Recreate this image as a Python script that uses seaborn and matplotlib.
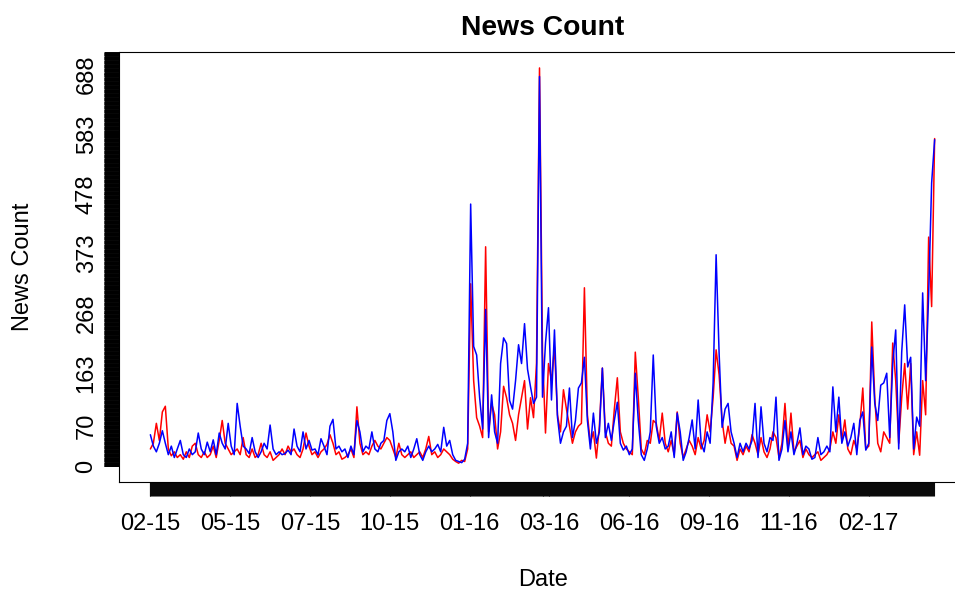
import numpy as np
import pandas as pd
import matplotlib
matplotlib.use('Agg')
import matplotlib.pyplot as plt
import seaborn as sns

# daily news counts, read every 3rd day starting 2015-02-20
step = 3
n_days = 786
red_counts = [
    30, 40, 75, 45, 95, 105, 30, 18, 25, 15,
    20, 12, 25, 15, 35, 40, 20, 15, 25, 15,
    20, 35, 15, 45, 80, 40, 30, 20, 25, 30,
    20, 50, 20, 15, 30, 15, 20, 40, 20, 15,
    25, 10, 15, 20, 30,
    20, 35, 25, 30, 20, 15, 30, 58, 35, 20,
    25, 15, 25, 30, 38, 55, 40, 20, 25, 12,
    15, 20, 30, 15, 104, 40, 20, 25, 20, 35,
    45, 35, 30, 40, 50, 45, 30, 15, 40, 20,
    15, 20, 25, 15, 20,
    25, 15, 30, 52, 20, 25, 15, 20, 30, 25,
    20, 12, 8, 5, 10, 8, 30, 320, 150, 85,
    70, 50, 385, 60, 110, 90, 30, 60, 140, 120,
    90, 75, 45, 90, 120, 150, 65, 120, 85, 181,
    699, 200, 58, 180, 150,
    209, 90, 60, 134, 100, 70, 40, 60, 70, 75,
    313, 90, 40, 60, 14, 70, 172, 60, 40, 35,
    100, 155, 60, 40, 30, 25, 20, 200, 120, 30,
    20, 45, 40, 80, 75, 45, 93, 40, 25, 45,
    20, 95, 40, 15, 30,
    45, 35, 20, 50, 30, 45, 90, 60, 120, 204,
    160, 80, 40, 70, 40, 35, 10, 30, 20, 35,
    25, 55, 40, 20, 50, 25, 15, 30, 60, 50,
    15, 40, 110, 30, 93, 25, 35, 45, 15, 30,
    20, 15, 20, 25, 10,
    15, 20, 30, 60, 40, 90, 45, 81, 30, 20,
    45, 30, 70, 137, 30, 35, 253, 120, 40, 25,
    60, 50, 40, 216, 150, 40, 120, 180, 100, 180,
    20, 60, 19, 150, 90, 402, 280, 575,
]
blue_counts = [
    55, 35, 25, 40, 62, 40, 20, 35, 15, 30,
    45, 20, 15, 30, 20, 25, 58, 30, 20, 42,
    25, 46, 20, 58, 40, 30, 75, 35, 20, 110,
    70, 35, 30, 22, 50, 25, 15, 25, 40, 30,
    72, 30, 20, 25, 20,
    22, 28, 20, 65, 35, 25, 60, 30, 45, 28,
    30, 20, 48, 35, 20, 70, 82, 30, 35, 25,
    30, 15, 35, 20, 80, 60, 25, 35, 30, 60,
    30, 25, 40, 45, 80, 92, 60, 10, 25, 30,
    25, 35, 15, 30, 48,
    20, 10, 25, 35, 25, 30, 38, 25, 68, 35,
    45, 20, 10, 8, 6, 12, 40, 460, 210, 195,
    120, 65, 275, 50, 125, 60, 40, 180, 225, 215,
    115, 100, 150, 213, 180, 250, 170, 139, 110, 121,
    684, 121, 216, 278, 116,
    239, 86, 40, 60, 70, 137, 50, 80, 137, 146,
    191, 80, 30, 93, 40, 60, 172, 50, 75, 45,
    80, 112, 40, 28, 35, 20, 30, 163, 80, 20,
    10, 30, 60, 195, 70, 40, 50, 30, 35, 60,
    15, 93, 60, 10, 25,
    50, 81, 30, 116, 40, 25, 60, 40, 146, 371,
    198, 68, 100, 110, 60, 40, 15, 40, 25, 40,
    30, 45, 110, 15, 104, 40, 25, 50, 45, 121,
    10, 30, 80, 25, 60, 20, 40, 67, 20, 35,
    30, 12, 15, 50, 20,
    25, 35, 25, 139, 60, 121, 40, 60, 35, 50,
    75, 20, 80, 95, 28, 40, 209, 110, 80, 142,
    146, 163, 50, 180, 239, 30, 200, 283, 174, 191,
    30, 86, 70, 304, 150, 300, 497, 573,
]
tick_days = [0, 80, 160, 240, 320, 400, 480, 560, 640, 720]
tick_labels = ['02-15', '05-15', '07-15', '10-15', '01-16',
               '03-16', '06-16', '09-16', '11-16', '02-17']
ytick_values = [0, 70, 163, 268, 373, 478, 583, 688]

df = pd.DataFrame({
    'day': np.arange(len(red_counts)) * step,
    'red': red_counts,
    'blue': blue_counts,
})

sns.set_style('white')
plt.rcParams['font.family'] = ['Liberation Sans', 'DejaVu Sans']
plt.rcParams['text.color'] = 'black'
plt.rcParams['axes.labelcolor'] = 'black'

fig = plt.figure(figsize=(9.55, 5.89), dpi=100)
ax = fig.add_axes([119 / 955, 107 / 589, 847 / 955, 430 / 589])

sns.lineplot(data=df, x='day', y='red', color='#ff0000', lw=1.1, ax=ax)
sns.lineplot(data=df, x='day', y='blue', color='#0000ff', lw=1.1, ax=ax)

ax.set_xlim(-0.04 * n_days, 1.04 * n_days)
ax.set_ylim(-28, 727)

ax.set_xticks(tick_days)
ax.set_xticklabels(tick_labels)
ax.set_xticks(np.arange(0, n_days), minor=True)
ax.xaxis.remove_overlapping_locs = False
ax.set_yticks(ytick_values)
ax.set_yticklabels([str(v) for v in ytick_values], rotation=90, va='center')
ax.set_yticks(np.arange(0, 728), minor=True)
ax.yaxis.remove_overlapping_locs = False

ax.tick_params(axis='x', which='both', length=10, width=0.8, color='#0a0a0a',
               direction='out', bottom=True)
ax.tick_params(axis='y', which='both', length=10.8, width=0.7, color='black',
               direction='out', left=True)
ax.tick_params(axis='x', which='major', labelsize=17, pad=12.6, labelcolor='black')
ax.tick_params(axis='y', which='major', labelsize=17, pad=4.6, labelcolor='black')

for sp in ax.spines.values():
    sp.set_color('black')
    sp.set_linewidth(0.8)

ax.set_title('News Count', fontsize=20.3, fontweight='bold', pad=12, color='black')
ax.set_xlabel('Date', fontsize=17)
ax.set_ylabel('News Count', fontsize=17)
ax.xaxis.set_label_coords((543 - 119) / 847, -0.202)
ax.yaxis.set_label_coords(-0.100, 0.5)

fig.savefig('out.png', dpi=100)
